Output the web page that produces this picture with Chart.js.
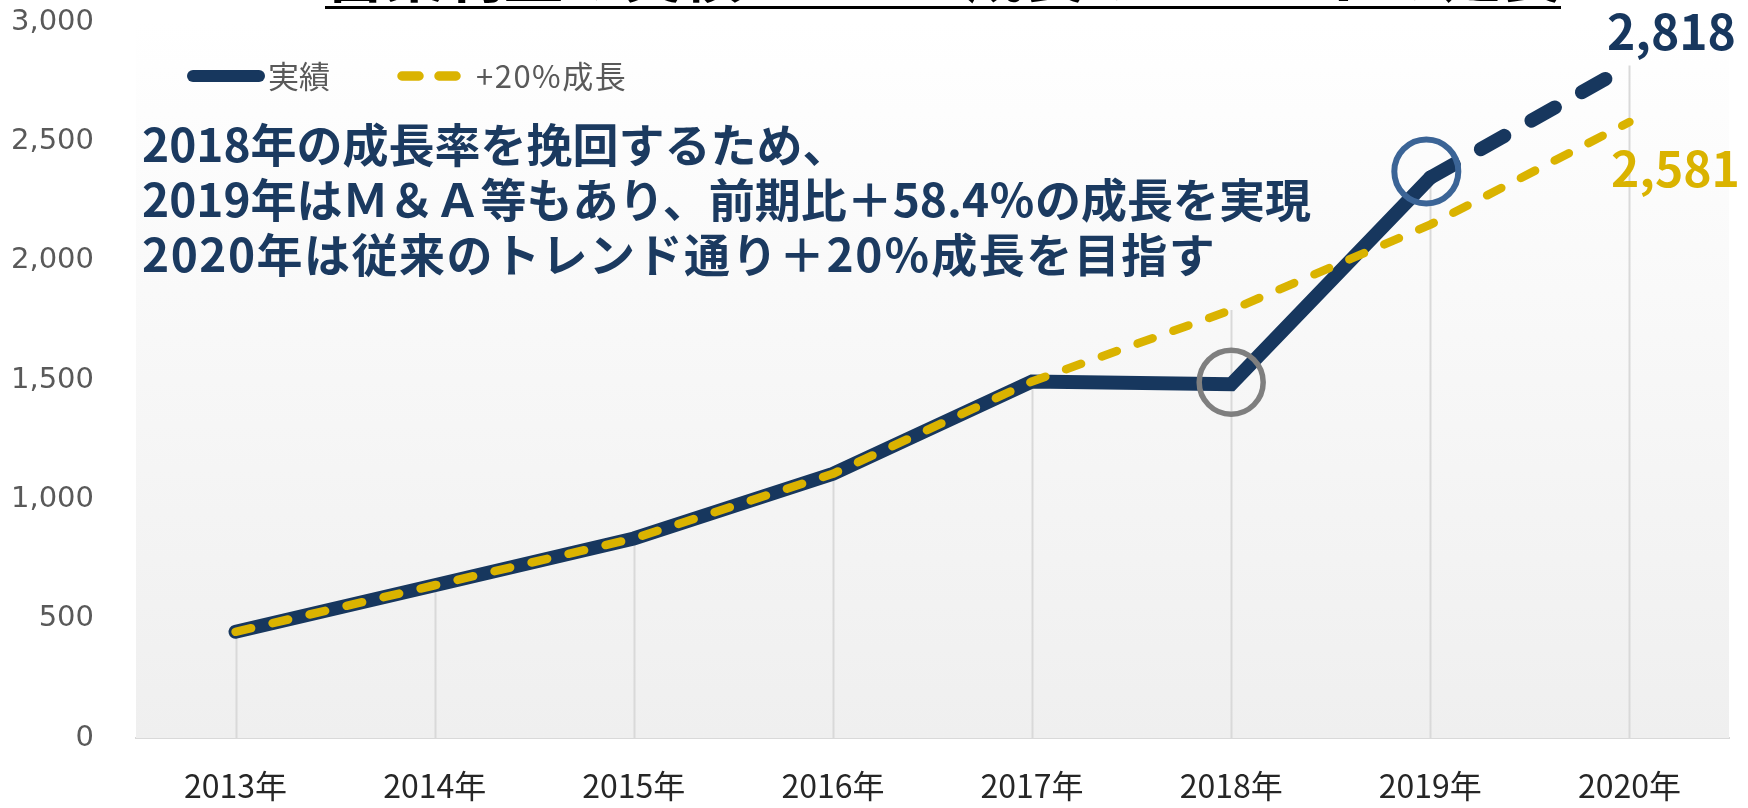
<!DOCTYPE html>
<html lang="ja">
<head>
<meta charset="utf-8">
<title>営業利益の推移</title>
<script src="https://cdn.jsdelivr.net/npm/chart.js@4.4.1/dist/chart.umd.min.js"></script>
<style>
  html, body { margin: 0; padding: 0; background: #fff; }
  #wrap { width: 1748px; height: 808px; }
</style>
</head>
<body>
<div id="wrap"><canvas id="chart" width="1748" height="808"></canvas></div>
<script>
// data
const years = ['2013年', '2014年', '2015年', '2016年', '2017年', '2018年', '2019年', '2020年'];
const jisseki = [445, 640, 836, 1107, 1494, 1482, 2348, 2818];
const growth20 = [445, 640, 836, 1107, 1494, 1793, 2151, 2581];
const seriesNames = ['実績', '+20%成長'];
const titleText = '営業利益の実績と+20%成長のトレンドの延長';
const noteLines = [
  '2018年の成長率を挽回するため、',
  '2019年はＭ＆Ａ等もあり、前期比＋58.4％の成長を実現',
  '2020年は従来のトレンド通り＋20％成長を目指す'
];

const NAVY = '#17375e';
const GOLD = '#dab300';
const JP = '"Noto Sans CJK JP", "Noto Sans", sans-serif';

// everything that is not a series goes here
const extras = {
  id: 'extras',
  beforeDatasetsDraw(chart) {
    const { ctx, chartArea: a, scales: { x, y } } = chart;
    ctx.save();
    // plot background
    const g = ctx.createLinearGradient(0, a.top, 0, a.bottom);
    g.addColorStop(0, '#ffffff');
    g.addColorStop(1, '#efefef');
    ctx.fillStyle = g;
    ctx.fillRect(a.left, a.top, a.right - a.left, a.bottom - a.top);
    // drop lines
    ctx.strokeStyle = '#d9d9d9';
    ctx.lineWidth = 2;
    years.forEach((_, i) => {
      const px = Math.round(x.getPixelForValue(i)) + 0.5;
      const top = y.getPixelForValue(Math.max(jisseki[i], growth20[i]));
      ctx.beginPath();
      ctx.moveTo(px, top);
      ctx.lineTo(px, a.bottom);
      ctx.stroke();
    });
    ctx.restore();
  },
  afterDatasetsDraw(chart) {
    const { ctx, scales: { x, y } } = chart;
    ctx.save();
    // highlight circles
    ctx.lineWidth = 5.5;
    ctx.strokeStyle = '#7f7f7f';
    ctx.beginPath();
    ctx.arc(x.getPixelForValue(5), y.getPixelForValue(jisseki[5]) - 2, 32, 0, Math.PI * 2);
    ctx.stroke();
    ctx.lineWidth = 6;
    ctx.strokeStyle = '#3b6496';
    ctx.beginPath();
    ctx.arc(x.getPixelForValue(6) - 4, y.getPixelForValue(jisseki[6]) - 6, 32, 0, Math.PI * 2);
    ctx.stroke();

    // end labels
    const last = years.length - 1;
    const lx = x.getPixelForValue(last) + 42;
    ctx.textAlign = 'center';
    ctx.textBaseline = 'middle';
    ctx.font = 'bold 48px ' + JP;
    ctx.fillStyle = NAVY;
    ctx.fillText(jisseki[last].toLocaleString('en-US'), lx, y.getPixelForValue(jisseki[last]) - 34);
    ctx.fillStyle = GOLD;
    ctx.fillText(growth20[last].toLocaleString('en-US'), lx + 4, y.getPixelForValue(growth20[last]) + 47);
    ctx.restore();
  },
  afterDraw(chart) {
    const { ctx } = chart;
    ctx.save();
    // title, mostly above the top edge
    ctx.font = 'bold 100px ' + JP;
    const w = ctx.measureText(titleText).width;
    const size = 100 * 1236 / w;
    ctx.font = 'bold ' + size + 'px ' + JP;
    ctx.fillStyle = '#000';
    ctx.textAlign = 'left';
    ctx.textBaseline = 'ideographic';
    ctx.fillText(titleText, 325, 4);
    ctx.fillRect(325, 6, 1236, 3);

    // legend
    ctx.lineCap = 'round';
    ctx.strokeStyle = NAVY;
    ctx.lineWidth = 12;
    ctx.beginPath();
    ctx.moveTo(193, 76);
    ctx.lineTo(259, 76);
    ctx.stroke();
    ctx.strokeStyle = GOLD;
    ctx.lineWidth = 9.5;
    ctx.beginPath();
    ctx.moveTo(402, 76); ctx.lineTo(419, 76);
    ctx.moveTo(439, 76); ctx.lineTo(456, 76);
    ctx.stroke();
    ctx.font = '31px ' + JP;
    ctx.fillStyle = '#595959';
    ctx.textBaseline = 'middle';
    ctx.fillText(seriesNames[0], 268, 76);
    ctx.letterSpacing = '1.5px';
    ctx.fillText(seriesNames[1], 476, 76);

    // comment
    ctx.font = 'bold 46px ' + JP;
    ctx.fillStyle = '#1b3a60';
    noteLines.forEach((t, i) => {
      ctx.letterSpacing = i === 2 ? '1.5px' : '0px';
      ctx.fillText(t, 142, 145 + i * 55);
    });
    ctx.restore();
  }
};

new Chart(document.getElementById('chart'), {
  type: 'line',
  data: {
    labels: years,
    datasets: [
      {
        label: seriesNames[1],
        data: growth20,
        order: 0,
        borderColor: GOLD,
        borderWidth: 8.5,
        borderDash: [16, 22],
        borderCapStyle: 'round',
        borderJoinStyle: 'round',
        pointRadius: 0,
        tension: 0,
        fill: false
      },
      {
        label: seriesNames[0],
        data: jisseki,
        order: 1,
        borderColor: NAVY,
        borderWidth: 14,
        borderCapStyle: 'round',
        borderJoinStyle: 'miter',
        pointRadius: 0,
        tension: 0,
        fill: false,
        segment: {
          borderDash: (c) => (c.p0DataIndex === 6 ? [27, 31] : undefined)
        }
      }
    ]
  },
  options: {
    responsive: false,
    devicePixelRatio: 1,
    animation: false,
    layout: { padding: { top: 22, right: 19, left: 0, bottom: 0 } },
    plugins: {
      legend: { display: false },
      title: { display: false },
      tooltip: { enabled: false }
    },
    scales: {
      x: {
        offset: true,
        grid: { display: false, drawTicks: false },
        border: { display: true, color: '#d9d9d9', width: 2 },
        ticks: {
          padding: 29,
          color: '#262626',
          font: { family: JP, size: 32 },
          maxRotation: 0
        },
        afterFit: (s) => { s.height = 70; }
      },
      y: {
        min: 0,
        max: 3000,
        grid: { display: false, drawTicks: false },
        border: { display: false },
        ticks: {
          stepSize: 500,
          padding: 42,
          color: '#595959',
          font: { family: 'DejaVu Sans', size: 29 },
          callback: (v) => v.toLocaleString('en-US')
        },
        afterFit: (s) => {
          s.width = 136;
          // tick padding would otherwise push the plot top down
          s.paddingTop = 0;
          s.paddingBottom = 0;
        }
      }
    }
  },
  plugins: [extras]
});
</script>
</body>
</html>
